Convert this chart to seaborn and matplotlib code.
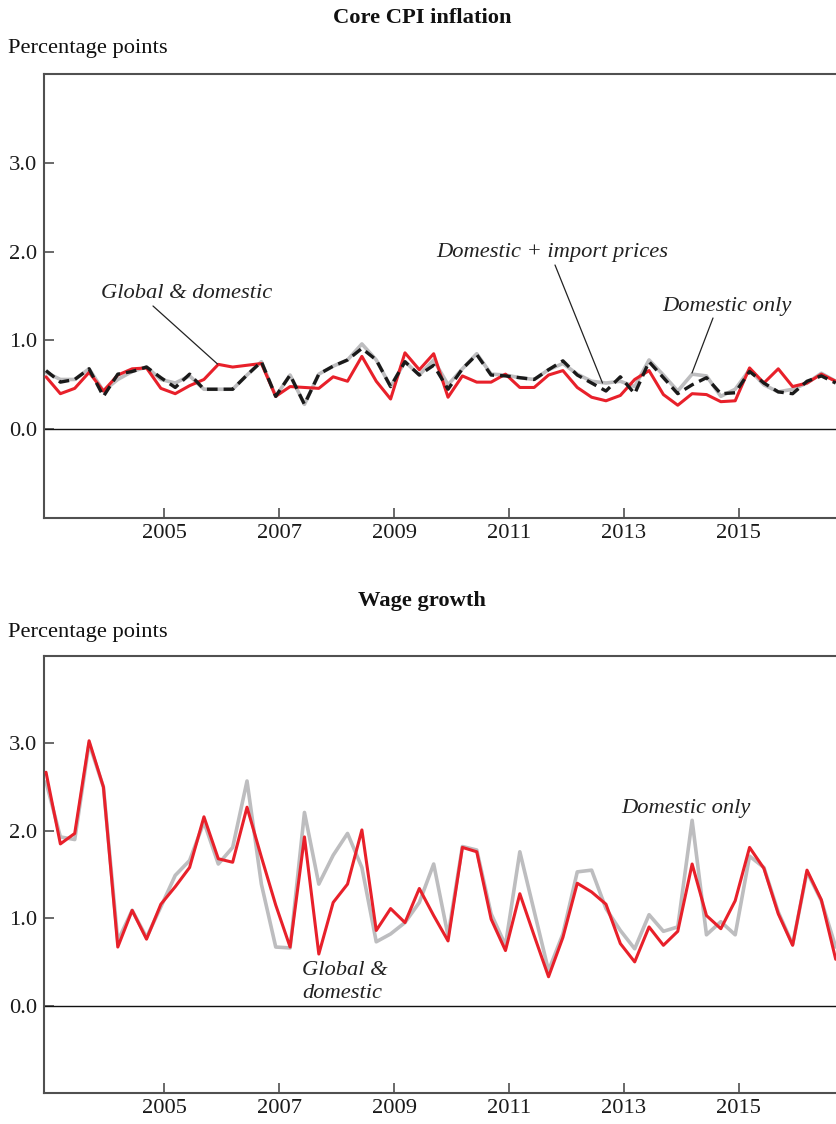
import numpy as np
import pandas as pd
import matplotlib
matplotlib.use("Agg")
import matplotlib.pyplot as plt
import seaborn as sns

# Quarterly contributions, 2003Q1 - 2016Q4 (percentage points)
start_year = 2003
tick_years = [2005, 2007, 2009, 2011, 2013, 2015]
y_ticks = [0.0, 1.0, 2.0, 3.0]

cpi_global_domestic = [
    0.59, 0.40, 0.46, 0.64, 0.43, 0.61, 0.68, 0.69, 0.46, 0.40,
    0.49, 0.56, 0.73, 0.70, 0.72, 0.74, 0.37, 0.48, 0.47, 0.46,
    0.59, 0.54, 0.82, 0.54, 0.34, 0.86, 0.67, 0.85, 0.36, 0.60,
    0.53, 0.53, 0.62, 0.47, 0.47, 0.61, 0.66, 0.47, 0.36, 0.32,
    0.38, 0.56, 0.66, 0.39, 0.27, 0.40, 0.39, 0.31, 0.32, 0.69,
    0.52, 0.68, 0.48, 0.52, 0.62, 0.54,
]
cpi_domestic_only = [
    0.64, 0.56, 0.56, 0.68, 0.43, 0.56, 0.65, 0.70, 0.56, 0.52,
    0.60, 0.45, 0.45, 0.45, 0.61, 0.76, 0.37, 0.61, 0.28, 0.62,
    0.71, 0.78, 0.96, 0.78, 0.48, 0.76, 0.61, 0.78, 0.50, 0.68,
    0.85, 0.62, 0.61, 0.58, 0.56, 0.67, 0.74, 0.62, 0.54, 0.52,
    0.54, 0.48, 0.78, 0.61, 0.43, 0.62, 0.60, 0.37, 0.45, 0.67,
    0.50, 0.42, 0.45, 0.52, 0.63, 0.54,
]
cpi_domestic_import = [
    0.66, 0.53, 0.56, 0.68, 0.37, 0.62, 0.65, 0.70, 0.58, 0.47,
    0.62, 0.45, 0.45, 0.45, 0.61, 0.76, 0.37, 0.61, 0.28, 0.62,
    0.71, 0.78, 0.91, 0.78, 0.48, 0.76, 0.61, 0.72, 0.45, 0.68,
    0.84, 0.61, 0.60, 0.58, 0.56, 0.67, 0.77, 0.61, 0.52, 0.43,
    0.59, 0.40, 0.76, 0.58, 0.40, 0.50, 0.58, 0.40, 0.41, 0.65,
    0.52, 0.42, 0.40, 0.54, 0.60, 0.52,
]

wage_global_domestic = [
    2.67, 1.85, 1.97, 3.03, 2.50, 0.67, 1.09, 0.76, 1.16, 1.36,
    1.58, 2.16, 1.68, 1.64, 2.27, 1.70, 1.15, 0.67, 1.93, 0.59,
    1.18, 1.39, 2.01, 0.86, 1.11, 0.95, 1.34, 1.03, 0.74, 1.81,
    1.76, 0.99, 0.63, 1.28, 0.80, 0.33, 0.78, 1.40, 1.30, 1.16,
    0.71, 0.50, 0.90, 0.69, 0.85, 1.62, 1.03, 0.88, 1.20, 1.81,
    1.57, 1.05, 0.69, 1.55, 1.21, 0.53,
]
wage_domestic_only = [
    2.56, 1.93, 1.90, 3.00, 2.50, 0.74, 1.09, 0.78, 1.13, 1.49,
    1.66, 2.10, 1.62, 1.81, 2.57, 1.39, 0.67, 0.66, 2.21, 1.39,
    1.72, 1.97, 1.58, 0.73, 0.82, 0.95, 1.18, 1.62, 0.80, 1.82,
    1.78, 1.05, 0.69, 1.76, 1.08, 0.40, 0.82, 1.53, 1.55, 1.11,
    0.86, 0.65, 1.04, 0.85, 0.90, 2.12, 0.81, 0.96, 0.81, 1.71,
    1.58, 1.07, 0.70, 1.53, 1.20, 0.67,
]

RED = "#e8202a"
GREY = "#bdbdbf"
BLACK = "#1a1a1a"
SPINE = "#505050"
TEXT = "#222222"
FS = 16.2

sns.set_theme(style="white")
plt.rcParams["font.family"] = ["Liberation Serif", "DejaVu Serif"]
plt.rcParams["font.size"] = FS

W, H = 837, 1124
fig = plt.figure(figsize=(W / 100, H / 100), dpi=100)

quarter = np.arange(len(cpi_global_domestic))
tick_pos = [(y - start_year) * 4 + 0.25 for y in tick_years]


def px_axes(left, top, right, bottom):
    return fig.add_axes([left / W, 1 - bottom / H, (right - left) / W, (bottom - top) / H])


def style_axes(ax):
    ax.set_xlim(-0.14, 55.16)
    ax.set_ylim(-1.0, 4.0)
    ax.set_xticks(tick_pos)
    ax.set_xticklabels([str(y) for y in tick_years])
    ax.set_yticks(y_ticks)
    ax.set_yticklabels([f"{v:.1f}" for v in y_ticks])
    ax.tick_params(axis="x", direction="in", length=7, width=1.2, color=SPINE,
                   pad=4, labelsize=FS, bottom=True, labelcolor="#1a1a1a")
    ax.tick_params(axis="y", direction="in", length=7, width=1.2, color=SPINE,
                   pad=5, labelsize=FS, left=True, labelcolor="#1a1a1a")
    for side in ("left", "top", "bottom"):
        ax.spines[side].set_visible(True)
        ax.spines[side].set_color(SPINE)
        ax.spines[side].set_linewidth(1.5)
    ax.spines["right"].set_visible(False)
    ax.axhline(0, color="#111111", lw=1.0, zorder=1)
    ax.set_xlabel("")
    ax.set_ylabel("")
    ax.grid(False)


def fig_text(x, y, s, **kw):
    """Text placed in figure pixels measured from the top-left corner."""
    return fig.text(x / W, 1 - y / H, s, fontsize=FS, **kw)


def leader(x0, y0, x1, y1):
    fig.add_artist(plt.Line2D([x0 / W, x1 / W], [1 - y0 / H, 1 - y1 / H],
                              transform=fig.transFigure, color=TEXT, lw=0.9))


# ---- Core CPI inflation ----
ax1 = px_axes(44, 74, 838, 518)
df_cpi = pd.DataFrame({
    "quarter": quarter,
    "gd": cpi_global_domestic,
    "do": cpi_domestic_only,
    "di": cpi_domestic_import,
})
sns.lineplot(data=df_cpi, x="quarter", y="do", ax=ax1, color=GREY, lw=2.6, zorder=2)
sns.lineplot(data=df_cpi, x="quarter", y="gd", ax=ax1, color=RED, lw=2.2, zorder=3)
sns.lineplot(data=df_cpi, x="quarter", y="di", ax=ax1, color=BLACK, lw=2.4, zorder=4)
ax1.lines[-1].set_dashes((3.2, 1.8))
style_axes(ax1)

fig_text(187, 294, "Global & domestic", fontstyle="italic", ha="center", va="center", color=TEXT)
leader(153, 306, 217.5, 364)
fig_text(552, 252, "Domestic + import prices", fontstyle="italic", ha="center", va="center", color=TEXT)
leader(555, 265, 602.5, 383)
fig_text(727, 307, "Domestic only", fontstyle="italic", ha="center", va="center", color=TEXT)
leader(713, 318, 692, 373)

fig_text(422, 18, "Core CPI inflation", fontweight="bold", ha="center", va="center", color="#111111")
fig_text(8, 49, "Percentage points", ha="left", va="center", color="#111111")

# ---- Wage growth ----
ax2 = px_axes(44, 656, 838, 1093)
df_wage = pd.DataFrame({
    "quarter": quarter,
    "gd": wage_global_domestic,
    "do": wage_domestic_only,
})
sns.lineplot(data=df_wage, x="quarter", y="do", ax=ax2, color=GREY, lw=2.6, zorder=2)
sns.lineplot(data=df_wage, x="quarter", y="gd", ax=ax2, color=RED, lw=2.2, zorder=3)
style_axes(ax2)

fig_text(686, 808, "Domestic only", fontstyle="italic", ha="center", va="center", color=TEXT)
fig_text(302, 982, "Global &\ndomestic", fontstyle="italic", ha="left", va="center",
         color=TEXT, linespacing=1.3)

fig_text(422, 601, "Wage growth", fontweight="bold", ha="center", va="center", color="#111111")
fig_text(8, 632, "Percentage points", ha="left", va="center", color="#111111")

fig.savefig("out.png", dpi=100)
